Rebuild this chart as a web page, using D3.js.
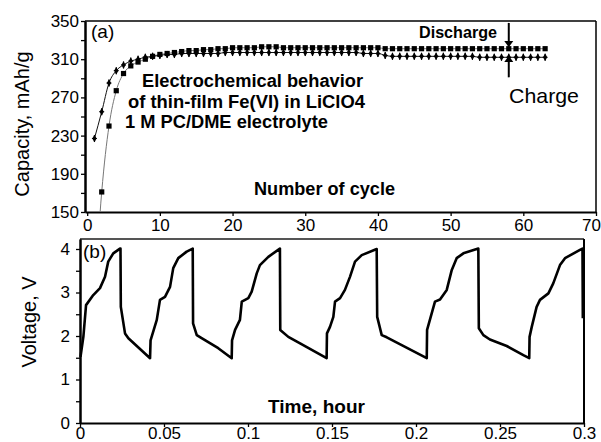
<!DOCTYPE html>
<html>
<head>
<meta charset="utf-8">
<script src="https://cdn.jsdelivr.net/npm/d3@7"></script>
<style>
  body { margin: 0; background: #fff; }
  text { font-family: "Liberation Sans", Arial, sans-serif; fill: #000; }
</style>
</head>
<body>
<script>
// panel (a): capacity vs cycle
const cycleNumbers = d3.range(1, 64)
const chargeCapacity = [227, 255, 285, 298, 304, 308, 310, 312, 313, 314,
    315, 315, 316, 316, 316, 316, 316, 316, 317, 317,
    317, 317, 317, 317, 317, 317, 317, 317, 317, 317,
    317, 317, 317, 317, 317, 317, 317, 316, 316, 316,
    314, 313, 313, 313, 313, 313, 313, 313, 313, 313,
    313, 313, 313, 312, 312, 312, 312, 312, 312, 312,
    312, 312, 312]
const dischargeCapacity = [60, 171, 240, 277, 295, 303, 307, 310, 313, 315,
    316, 317, 318, 319, 319, 320, 320, 321, 321, 322,
    322, 322, 322, 323, 323, 323, 322, 322, 322, 322,
    322, 322, 322, 322, 322, 322, 322, 322, 322, 322,
    321, 321, 321, 321, 321, 321, 321, 321, 321, 321,
    321, 321, 321, 321, 321, 321, 321, 321, 321, 321,
    321, 321, 321]
const capTicks = [150, 190, 230, 270, 310, 350]
const capMinorTicks = [170, 210, 250, 290, 330]
const cycleTicks = [0, 10, 20, 30, 40, 50, 60, 70]

// panel (b): voltage vs time
const timeHours = [0.0003, 0.0020, 0.0036, 0.0079, 0.0119, 0.0149, 0.0168, 0.0198, 0.0238, 0.0241, 0.0243, 0.0268, 0.0288, 0.0417,
    0.0420, 0.0457, 0.0476, 0.0506, 0.0536, 0.0555, 0.0585, 0.0635, 0.0671, 0.0673, 0.0695, 0.0724, 0.0823, 0.0903,
    0.0905, 0.0923, 0.0952, 0.0963, 0.1002, 0.1022, 0.1052, 0.1071, 0.1121, 0.1190, 0.1192, 0.1240, 0.1310, 0.1468,
    0.1470, 0.1488, 0.1508, 0.1518, 0.1548, 0.1577, 0.1607, 0.1637, 0.1677, 0.1766, 0.1769, 0.1796, 0.1826, 0.2064,
    0.2066, 0.2113, 0.2143, 0.2183, 0.2213, 0.2242, 0.2282, 0.2371, 0.2374, 0.2401, 0.2440, 0.2540, 0.2639, 0.2674,
    0.2676, 0.2689, 0.2718, 0.2738, 0.2788, 0.2817, 0.2857, 0.2887, 0.2976, 0.2991, 0.2993]
const voltageV = [1.52, 1.98, 2.71, 2.94, 3.10, 3.36, 3.71, 3.90, 4.01, 4.01, 2.67, 2.06, 1.95, 1.49,
    1.90, 2.37, 2.83, 2.90, 3.13, 3.56, 3.79, 3.94, 4.01, 2.29, 2.02, 1.95, 1.72, 1.49,
    1.90, 2.14, 2.37, 2.79, 2.87, 3.02, 3.44, 3.63, 3.82, 4.01, 2.14, 1.98, 1.83, 1.49,
    2.06, 2.21, 2.44, 2.79, 2.87, 3.06, 3.36, 3.71, 3.86, 4.00, 2.44, 2.02, 1.97, 1.49,
    2.14, 2.79, 2.84, 3.06, 3.52, 3.79, 3.90, 4.01, 2.18, 2.02, 1.92, 1.77, 1.56, 1.49,
    1.98, 2.21, 2.67, 2.83, 2.98, 3.21, 3.63, 3.79, 3.98, 4.01, 2.41]
const voltTicks = [0, 1, 2, 3, 4]
const voltMinorTicks = [0.5, 1.5, 2.5, 3.5]
const timeTicks = [0, 0.05, 0.1, 0.15, 0.2, 0.25, 0.3]
const timeTickLabels = ['0', '0.05', '0.1', '0.15', '0.2', '0.25', '0.3']

const width = 601
const height = 442

const svg = d3.select('body').append('svg').attr('width', width).attr('height', height)

// ---------- panel (a) ----------
const xA = d3.scaleLinear().domain([-0.3, 70]).range([85, 596])
const yA = d3.scaleLinear().domain([150, 350]).range([212, 21])

svg.append('clipPath').attr('id', 'clipA')
    .append('rect').attr('x', xA(-0.3)).attr('y', yA(350)).attr('width', xA(70) - xA(-0.3)).attr('height', yA(150) - yA(350))

// frame top/right
svg.append('line').attr('x1', xA(-0.3)).attr('x2', xA(70)).attr('y1', yA(350)).attr('y2', yA(350)).attr('stroke', '#000').attr('stroke-width', 1.5)
svg.append('line').attr('x1', xA(70)).attr('x2', xA(70)).attr('y1', yA(350)).attr('y2', yA(150)).attr('stroke', '#000').attr('stroke-width', 1.5)

svg.append('g').attr('transform', `translate(${xA(-0.3)},0)`)
    .call(d3.axisLeft(yA).tickValues(capTicks).tickSize(4).tickPadding(2).tickSizeOuter(0))
svg.append('g').attr('transform', `translate(${xA(-0.3)},0)`)
    .call(d3.axisLeft(yA).tickValues(capMinorTicks).tickSize(4).tickFormat('').tickSizeOuter(0))
const cycleAxis = svg.append('g').attr('transform', `translate(0,${yA(150)})`)
    .call(d3.axisBottom(xA).tickValues(cycleTicks).tickSize(4).tickPadding(3).tickSizeOuter(0))
// last label sits a bit left so it stays inside the window
cycleAxis.selectAll('.tick text').filter((d) => d === 70).attr('dx', -5)

const capLine = d3.line().x((d, i) => xA(cycleNumbers[i])).y((d) => yA(d)).curve(d3.curveMonotoneX)

const plotA = svg.append('g').attr('clip-path', 'url(#clipA)')

plotA.append('path').datum(dischargeCapacity).attr('d', capLine)
    .attr('fill', 'none').attr('stroke', '#777').attr('stroke-width', 1)
plotA.append('path').datum(chargeCapacity).attr('d', capLine)
    .attr('fill', 'none').attr('stroke', '#111').attr('stroke-width', 1)

plotA.selectAll('.sq').data(dischargeCapacity).enter().append('rect')
    .attr('class', 'sq')
    .attr('x', (d, i) => xA(cycleNumbers[i]) - 2.6)
    .attr('y', (d) => yA(d) - 2.6)
    .attr('width', 5.2).attr('height', 5.2).attr('fill', '#000')

const diamonds = plotA.selectAll('.dm').data(chargeCapacity).enter().append('g')
    .attr('class', 'dm')
    .attr('transform', (d, i) => `translate(${xA(cycleNumbers[i])},${yA(d)})`)
diamonds.append('path').attr('d', d3.symbol().type(d3.symbolDiamond).size(16)).attr('fill', '#000')
diamonds.append('line').attr('x1', 0).attr('x2', 0).attr('y1', -3.5).attr('y2', 3.5).attr('stroke', '#000').attr('stroke-width', 1.2)
diamonds.append('line').attr('x1', -2.5).attr('x2', 2.5).attr('y1', 0).attr('y2', 0).attr('stroke', '#000').attr('stroke-width', 1)

// arrows
const arrowX = xA(58)
svg.append('line').attr('x1', arrowX).attr('x2', arrowX).attr('y1', yA(348)).attr('y2', yA(326)).attr('stroke', '#000').attr('stroke-width', 2)
svg.append('path').attr('d', `M${arrowX - 4.5},${yA(329)} L${arrowX + 4.5},${yA(329)} L${arrowX},${yA(322.5)} Z`).attr('fill', '#000')
svg.append('line').attr('x1', arrowX).attr('x2', arrowX).attr('y1', yA(291)).attr('y2', yA(311)).attr('stroke', '#000').attr('stroke-width', 2)
svg.append('path').attr('d', `M${arrowX - 4.5},${yA(307)} L${arrowX + 4.5},${yA(307)} L${arrowX},${yA(313.5)} Z`).attr('fill', '#000')

// ---------- panel (b) ----------
const xB = d3.scaleLinear().domain([0, 0.3]).range([80, 584])
const yB = d3.scaleLinear().domain([0, 4.23]).range([423, 239])

svg.append('line').attr('x1', xB(0)).attr('x2', xB(0.3)).attr('y1', yB(4.23)).attr('y2', yB(4.23)).attr('stroke', '#555').attr('stroke-width', 2)
svg.append('line').attr('x1', xB(0.3)).attr('x2', xB(0.3)).attr('y1', yB(4.23)).attr('y2', yB(0)).attr('stroke', '#000').attr('stroke-width', 2)

svg.append('g').attr('transform', `translate(${xB(0)},0)`)
    .call(d3.axisLeft(yB).tickValues(voltTicks).tickSize(4).tickPadding(6).tickSizeOuter(0).tickFormat(d3.format('d')))
svg.append('g').attr('transform', `translate(${xB(0)},0)`)
    .call(d3.axisLeft(yB).tickValues(voltMinorTicks).tickSize(4).tickFormat('').tickSizeOuter(0))
svg.append('g').attr('transform', `translate(0,${yB(0)})`)
    .call(d3.axisBottom(xB).tickValues(timeTicks).tickSize(4).tickPadding(0).tickSizeOuter(0)
        .tickFormat((d, i) => timeTickLabels[i]))

const voltLine = d3.line().x((d, i) => xB(timeHours[i])).y((d) => yB(d))
svg.append('path').datum(voltageV).attr('d', voltLine)
    .attr('fill', 'none').attr('stroke', '#000').attr('stroke-width', 2.6).attr('stroke-linejoin', 'round')

// axis styling
svg.selectAll('.domain').attr('stroke', '#000').attr('stroke-width', 2)
svg.selectAll('.tick line').attr('stroke', '#000').attr('stroke-width', 1.3)
svg.selectAll('.tick text').style('font-size', '17px').attr('fill', '#000')

// ---------- texts ----------
svg.append('text').text('(a)').attr('x', 91).attr('y', 38).style('font-size', '19px')
svg.append('text').text('(b)').attr('x', 83).attr('y', 258).style('font-size', '19px')

svg.append('text').text('Capacity, mAh/g')
    .attr('transform', 'translate(29,124) rotate(-90)').attr('text-anchor', 'middle').style('font-size', '20px')
svg.append('text').text('Voltage, V')
    .attr('transform', 'translate(36,322) rotate(-90)').attr('text-anchor', 'middle').style('font-size', '20px')

const boldTexts = [
    { t: 'Electrochemical behavior', x: 142, y: 87, w: 221, s: 18 },
    { t: 'of thin-film Fe(VI) in LiClO4', x: 128, y: 108, w: 237, s: 18 },
    { t: '1 M PC/DME  electrolyte', x: 125, y: 128, w: 203, s: 18 },
    { t: 'Number of cycle', x: 254, y: 195, w: 141, s: 18 },
    { t: 'Discharge', x: 419, y: 38, w: 78, s: 17 },
    { t: 'Time, hour', x: 268, y: 413, w: 97, s: 19 }
]
boldTexts.forEach((b) => {
    svg.append('text').text(b.t).attr('x', b.x).attr('y', b.y)
        .attr('textLength', b.w).attr('lengthAdjust', 'spacingAndGlyphs')
        .style('font-size', b.s + 'px').style('font-weight', 'bold')
})
svg.append('text').text('Charge').attr('x', 509).attr('y', 103)
    .attr('textLength', 70).attr('lengthAdjust', 'spacingAndGlyphs').style('font-size', '21px')
</script>
</body>
</html>
